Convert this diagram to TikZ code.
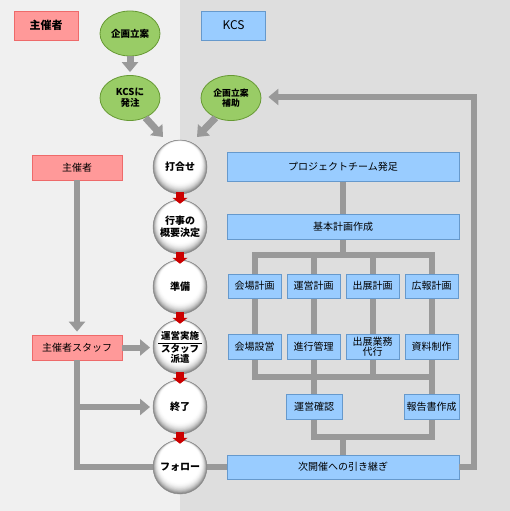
\documentclass[tikz,border=0pt]{standalone}
\usepackage{fontspec}
\setmainfont{Noto Sans CJK JP}
\usetikzlibrary{arrows.meta,shapes.geometric,calc}
\definecolor{pinkf}{HTML}{FF9999}
\definecolor{pinkd}{HTML}{EE6A6A}
\definecolor{bluef}{HTML}{99CCFF}
\definecolor{blued}{HTML}{6699CC}
\definecolor{greenf}{HTML}{99CC66}
\definecolor{greend}{HTML}{669933}
\definecolor{lgray}{HTML}{999999}
\definecolor{bgl}{HTML}{F0F0F0}
\definecolor{bgr}{HTML}{DEDEDE}
\definecolor{redarr}{HTML}{CC0000}
\tikzset{
  pinkbox/.style={draw=pinkd, fill=pinkf, line width=0.8pt, inner sep=0pt, font=\fontsize{10}{11}\selectfont},
  bluebox/.style={draw=blued, fill=bluef, line width=0.8pt, inner sep=0pt, align=center, font=\fontsize{10}{9.5}\selectfont},
  greenell/.style={ellipse, draw=greend, fill=greenf, line width=0.8pt, inner sep=0pt, minimum width=60pt, minimum height=45pt, align=center, font=\bfseries\fontsize{9.5}{11}\selectfont},
  ball/.style={circle, draw=black!45, line width=0.5pt, minimum size=54pt, inner sep=0pt, align=center, font=\bfseries\fontsize{10}{12}\selectfont},
  conn/.style={draw=lgray, line width=6pt},
  garrow/.style={draw=lgray, line width=6pt, -{Triangle[length=10pt,width=16pt]}},
  rarrow/.style={draw=redarr, line width=8pt, -{Triangle[length=6pt,width=15pt]}},
}
\begin{document}
\begin{tikzpicture}[x=1pt,y=-1pt]
\useasboundingbox (0,0) rectangle (510,511);
\fill[bgl] (0,0) rectangle (180,511);
\fill[bgr] (180,0) rectangle (510,511);

% header boxes
\node[pinkbox, minimum width=64pt, minimum height=29pt, font=\bfseries\fontsize{11}{12}\selectfont] (hdrA) at (46,25.5) {主催者};
\node[bluebox, minimum width=64pt, minimum height=29pt, font=\fontsize{12}{12}\selectfont] (hdrB) at (233.5,25.5) {KCS};

% coordinates for buses
\coordinate (b1) at (343,255);
\coordinate (b2) at (343,377);
\coordinate (b3) at (343,437);
\coordinate (fbc) at (474,97);

% connectors first (behind)
\draw[conn] (343,181) -- (343,214);
\draw[conn] (343,239) -- (b1);
\draw[conn] (254.5,274) |- (b1) -| (431.5,274);
\draw[conn] (313.5,274) -- (313.5,255);
\draw[conn] (372.5,274) -- (372.5,255);
\draw[conn] (254.5,298) -- (254.5,334);
\draw[conn] (313.5,298) -- (313.5,334);
\draw[conn] (372.5,298) -- (372.5,334);
\draw[conn] (431.5,298) -- (431.5,334);
\draw[conn] (254.5,359) |- (b2) -| (431.5,359);
\draw[conn] (313.5,359) -- (313.5,394);
\draw[conn] (372.5,359) -- (372.5,377);
\draw[conn] (431.5,359) -- (431.5,394);
\draw[conn] (313.5,419) |- (b3) -| (431.5,419);
\draw[conn] (b3) -- (343,455);

% green ellipses
\node[greenell] (kikaku) at (130,33.5) {企画立案};
\node[greenell] (hatchu) at (130,98) {KCSに\\発注};
\node[greenell, font=\bfseries\fontsize{8.8}{10.5}\selectfont] (hojo) at (231,98) {企画立案\\補助};

% left boxes
\node[pinkbox, minimum width=90pt, minimum height=25pt] (s2) at (77,167.5) {主催者};
\node[pinkbox, minimum width=90pt, minimum height=25pt] (staff) at (77,347.5) {主催者スタッフ};

% right boxes
\node[bluebox, minimum width=232pt, minimum height=29pt] (pt) at (343,166.5) {プロジェクトチーム発足};
\node[bluebox, minimum width=232pt, minimum height=25pt] (kh) at (343,226.5) {基本計画作成};
\node[bluebox, minimum width=53pt, minimum height=24pt] (r1a) at (254.5,286) {会場計画};
\node[bluebox, minimum width=53pt, minimum height=24pt] (r1b) at (313.5,286) {運営計画};
\node[bluebox, minimum width=53pt, minimum height=24pt] (r1c) at (372.5,286) {出展計画};
\node[bluebox, minimum width=53pt, minimum height=24pt] (r1d) at (431.5,286) {広報計画};
\node[bluebox, minimum width=53pt, minimum height=25pt] (r2a) at (254.5,346.5) {会場設営};
\node[bluebox, minimum width=53pt, minimum height=25pt] (r2b) at (313.5,346.5) {進行管理};
\node[bluebox, minimum width=53pt, minimum height=25pt] (r2c) at (372.5,346.5) {出展業務\\代行};
\node[bluebox, minimum width=53pt, minimum height=25pt] (r2d) at (431.5,346.5) {資料制作};
\node[bluebox, minimum width=56pt, minimum height=25pt] (r3a) at (314,406.5) {運営確認};
\node[bluebox, minimum width=55pt, minimum height=25pt] (r3b) at (431.5,406.5) {報告書作成};
\node[bluebox, minimum width=232pt, minimum height=24pt] (nx) at (343,467) {次開催への引き継ぎ};

% feedback
\draw[garrow, shorten >=7pt] (nx.east) -| (fbc) -- (fbc -| hojo.east);

% left connectors
\draw[garrow, shorten >=3pt] (s2.south) -- (staff.north);
\coordinate (c5l) at (150,407);
\coordinate (c4l) at (150,347.5);
\draw[conn] (staff.south) |- (160,467);
\draw[garrow] (staff.south |- c5l) -- (c5l);
\draw[garrow] (staff.east) -- (c4l);
\draw[conn] (200,467) -- (nx.west);

% top arrows
\draw[garrow, line width=7pt, shorten >=3pt] (kikaku.south) -- (hatchu.north);
\coordinate (t1) at (163,137);
\coordinate (t2) at (197,137);
\draw[garrow, line width=7pt] (hatchu.-52) -- (t1);
\draw[garrow, line width=7pt] (hojo.-128) -- (t2);

% sphere shading (concentric discs)
\foreach \cy in {167,227,287,347,407,467}{
  \foreach \i in {0,...,18}{
    \pgfmathsetmacro\rr{27-\i*0.38}
    \pgfmathsetmacro\cc{48*(1-\i/18)^2.2}
    \pgfmathsetmacro\yo{\cy-\i*0.28}
    \fill[black!\cc] (180,\yo) circle (\rr pt);
  }
}

% spheres
\node[ball] (c1) at (180,167) {打合せ};
\node[ball] (c2) at (180,227) {行事の\\概要決定};
\node[ball] (c3) at (180,287) {準備};
\node[ball, font=\bfseries\fontsize{9.5}{10}\selectfont] (c4) at (180,347) {運営実施\\[3pt]スタッフ\\派遣};
\node[ball] (c5) at (180,407) {終了};
\node[ball] (c6) at (180,467) {フォロー};
\draw[line width=0.6pt] ([xshift=-22pt,yshift=4pt]c4.center) -- ([xshift=22pt,yshift=4pt]c4.center);

% red arrows
\draw[rarrow] ([yshift=2pt]c1.south) -- ([yshift=-4pt]c2.north);
\draw[rarrow] ([yshift=2pt]c2.south) -- ([yshift=-4pt]c3.north);
\draw[rarrow] ([yshift=2pt]c3.south) -- ([yshift=-4pt]c4.north);
\draw[rarrow] ([yshift=2pt]c4.south) -- ([yshift=-4pt]c5.north);
\draw[rarrow] ([yshift=2pt]c5.south) -- ([yshift=-4pt]c6.north);
\end{tikzpicture}
\end{document}
